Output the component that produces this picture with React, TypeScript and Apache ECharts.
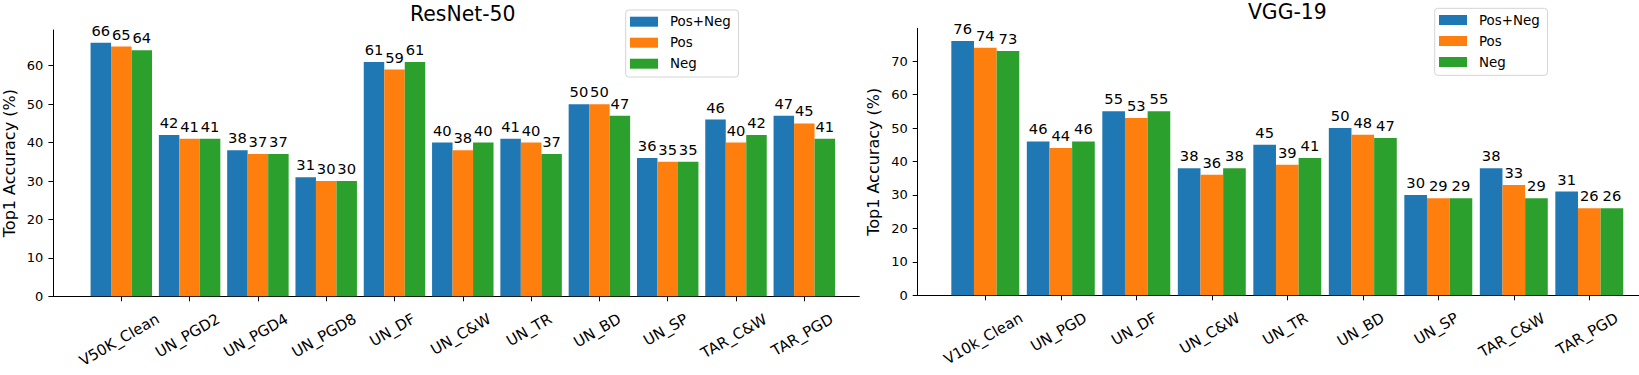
import React, { useEffect, useRef } from 'react';
import * as echarts from 'echarts';

const resnetCategories = ['V50K_Clean', 'UN_PGD2', 'UN_PGD4', 'UN_PGD8', 'UN_DF', 'UN_C&W', 'UN_TR', 'UN_BD', 'UN_SP', 'TAR_C&W', 'TAR_PGD'];
const resnetPosNeg = [66, 42, 38, 31, 61, 40, 41, 50, 36, 46, 47];
const resnetPos = [65, 41, 37, 30, 59, 38, 40, 50, 35, 40, 45];
const resnetNeg = [64, 41, 37, 30, 61, 40, 37, 47, 35, 42, 41];
const resnetYTicks = [0, 10, 20, 30, 40, 50, 60];

const vggCategories = ['V10k_Clean', 'UN_PGD', 'UN_DF', 'UN_C&W', 'UN_TR', 'UN_BD', 'UN_SP', 'TAR_C&W', 'TAR_PGD'];
const vggPosNeg = [76, 46, 55, 38, 45, 50, 30, 38, 31];
const vggPos = [74, 44, 53, 36, 39, 48, 29, 33, 26];
const vggNeg = [73, 46, 55, 38, 41, 47, 29, 29, 26];
const vggYTicks = [0, 10, 20, 30, 40, 50, 60, 70];

const seriesNames = ['Pos+Neg', 'Pos', 'Neg'];
const colors = ['#1f77b4', '#ff7f0e', '#2ca02c'];
const yAxisTitle = 'Top1 Accuracy (%)';
const titles = ['ResNet-50', 'VGG-19'];

const FONT = 'DejaVu Sans';
const XLABEL_SIZE = 15;
const XLABEL_ROT = 30;

// DejaVu Sans advance widths (em) for the label glyphs
const GLYPH: Record<string, number> = {
  V: 0.684, K: 0.656, _: 0.5, C: 0.698, l: 0.278, e: 0.615, a: 0.613, n: 0.634, k: 0.579,
  U: 0.732, N: 0.748, P: 0.603, G: 0.775, D: 0.77, F: 0.575, '&': 0.78, W: 0.989, T: 0.611,
  R: 0.695, B: 0.686, S: 0.635, A: 0.684,
};
function textWidth(text: string, size: number): number {
  let w = 0;
  for (const ch of text) w += GLYPH[ch] !== undefined ? GLYPH[ch] : /[0-9]/.test(ch) ? 0.636 : 0.6;
  return w * size;
}

export default function App() {
  const ref = useRef<HTMLDivElement>(null);
  useEffect(() => {
    if (!ref.current) return;
    const chart = echarts.init(ref.current, null, { renderer: 'svg' });

    // pixel geometry of the two panels
    const L = { left: 53.4, top: 30, height: 266.3, zero: 121.3, unit: 68.3, right: 859.3 };
    const R = { left: 917.7, top: 28.3, height: 267, zero: 985.3, unit: 75.5, right: 1639 };
    const panels = [
      { g: L, cats: resnetCategories, groups: [resnetPosNeg, resnetPos, resnetNeg], yMax: 69.3, yTicks: resnetYTicks },
      { g: R, cats: vggCategories, groups: [vggPosNeg, vggPos, vggNeg], yMax: 79.8, yTicks: vggYTicks },
    ];

    const grids: any[] = [];
    const xAxes: any[] = [];
    const yAxes: any[] = [];
    const series: any[] = [];
    const labelEls: any[] = [];
    const rot = (XLABEL_ROT * Math.PI) / 180;
    const H = XLABEL_SIZE * 1.17;

    panels.forEach((p, idx) => {
      const g = p.g;
      const xMin = -(g.zero - g.left) / g.unit;
      const xMax = (g.right - g.zero) / g.unit;
      grids.push({ left: g.left, top: g.top, width: g.right - g.left, height: g.height, outerBoundsMode: 'none', containLabel: false });
      xAxes.push({
        type: 'value',
        gridIndex: idx,
        min: xMin,
        max: xMax,
        splitLine: { show: false },
        axisLine: { show: true, onZero: false, lineStyle: { color: '#000', width: 1 } },
        axisTick: { show: true, length: 5, lineStyle: { color: '#000', width: 1 }, customValues: p.cats.map((_, i) => i) },
        axisLabel: { show: false },
      });
      yAxes.push({
        type: 'value',
        gridIndex: idx,
        min: 0,
        max: p.yMax,
        splitLine: { show: false },
        axisLine: { show: true, onZero: false, lineStyle: { color: '#000', width: 1 } },
        axisTick: { show: true, length: 5, lineStyle: { color: '#000', width: 1 }, customValues: p.yTicks },
        axisLabel: { customValues: p.yTicks, margin: 10, fontSize: 13, fontFamily: FONT, color: '#000' },
        name: yAxisTitle,
        nameLocation: 'middle',
        nameGap: 36,
        nameTextStyle: { fontSize: 16, fontFamily: FONT, color: '#000' },
      });
      p.groups.forEach((vals, s) => {
        series.push({
          type: 'bar',
          name: seriesNames[s],
          xAxisIndex: idx,
          yAxisIndex: idx,
          barWidth: 0.3 * g.unit,
          barGap: '0%',
          itemStyle: { color: colors[s] },
          data: vals.map((v, i) => [i, v]),
          label: {
            show: true,
            position: 'top',
            distance: 5,
            fontSize: 14.7,
            fontFamily: FONT,
            color: '#000',
            formatter: (q: any) => String(Math.round(q.value[1])),
          },
        });
      });
      // rotated category labels: 30deg, bounding box centred on the tick (same linear map as the x axis)
      const axisY = g.top + g.height;
      const axisW = g.right - g.left;
      p.cats.forEach((c, i) => {
        const tx = g.left + ((i - xMin) / (xMax - xMin)) * axisW;
        const len = textWidth(c, XLABEL_SIZE);
        const h = len * Math.sin(rot) + H * Math.cos(rot);
        labelEls.push({
          type: 'text',
          x: tx - 2,
          y: axisY + 13.7 + h / 2,
          rotation: rot,
          style: { text: c, fontSize: XLABEL_SIZE, fontFamily: FONT, fill: '#000', align: 'center', verticalAlign: 'middle' },
        });
      });
    });

    const legendBase = {
      orient: 'vertical',
      data: seriesNames,
      icon: 'rect',
      itemWidth: 28,
      itemHeight: 10,
      itemGap: 7,
      padding: [4.7, 7.7, 6.3, 4.3],
      backgroundColor: 'rgba(255,255,255,0.8)',
      borderColor: '#d4d4d4',
      borderWidth: 1,
      borderRadius: 3,
      selectedMode: false,
      textStyle: { fontSize: 13.4, fontFamily: FONT, color: '#000', lineHeight: 14, padding: [0, 0, 0, 7] },
    };

    const titleStyle = { fontSize: 20.4, fontWeight: 'normal', fontFamily: FONT, color: '#000' };

    chart.setOption({
      animation: false,
      backgroundColor: '#fff',
      textStyle: { fontFamily: FONT },
      title: [
        { text: titles[0], left: L.zero + L.unit * 5, top: 4, textAlign: 'center', padding: 0, textStyle: titleStyle },
        { text: titles[1], left: R.zero + R.unit * 4, top: 2.3, textAlign: 'center', padding: 0, textStyle: titleStyle },
      ],
      legend: [
        { ...legendBase, left: 625.7, top: 10 },
        { ...legendBase, left: 1434.7, top: 8.3 },
      ],
      grid: grids,
      xAxis: xAxes,
      yAxis: yAxes,
      series,
      graphic: labelEls,
    });

    return () => chart.dispose();
  }, []);
  return <div ref={ref} style={{ position: 'absolute', left: 0, top: 0, width: 1639, height: 375 }} />;
}
